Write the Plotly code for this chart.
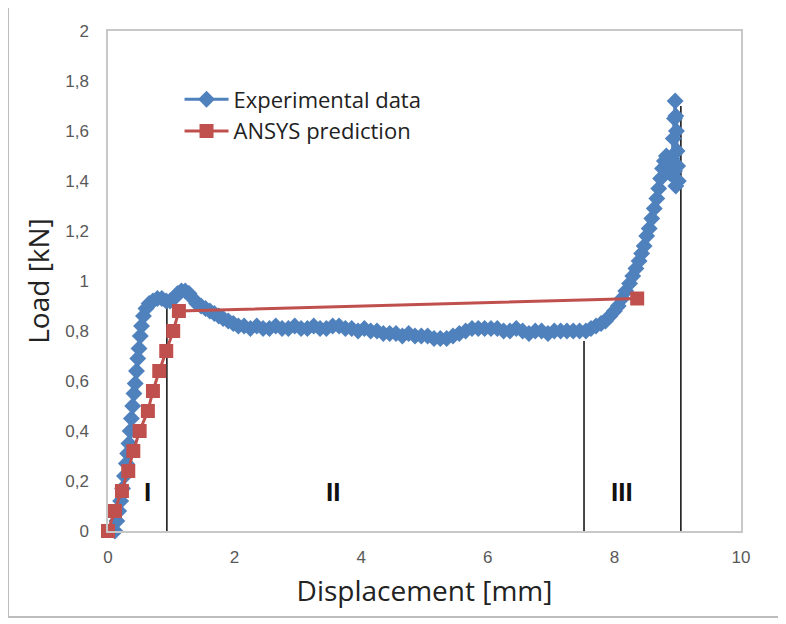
import plotly.graph_objects as go

# Experimental data (displacement mm, load kN)
exp_x = [0.11, 0.14, 0.17, 0.20, 0.23, 0.26, 0.29, 0.31, 0.33, 0.35, 0.37, 0.39, 0.41, 0.43,
         0.45, 0.47, 0.49, 0.51, 0.53, 0.56, 0.60, 0.65, 0.71, 0.78, 0.85, 0.92, 0.98, 1.04,
         1.10, 1.16, 1.22, 1.28, 1.34, 1.40, 1.47, 1.54, 1.61, 1.68, 1.75, 1.82, 1.90, 1.98,
         2.06, 2.15, 2.25, 2.35, 2.45, 2.55, 2.65, 2.75, 2.85, 2.95, 3.05, 3.15, 3.25, 3.35,
         3.45, 3.55, 3.65, 3.75, 3.85, 3.95, 4.05, 4.15, 4.25, 4.35, 4.45, 4.55, 4.65, 4.75,
         4.85, 4.95, 5.05, 5.15, 5.25, 5.35, 5.45, 5.55, 5.65, 5.75, 5.85, 5.95, 6.05, 6.15,
         6.25, 6.35, 6.45, 6.55, 6.65, 6.75, 6.85, 6.95, 7.05, 7.15, 7.25, 7.35, 7.45, 7.55,
         7.63, 7.71, 7.79, 7.86, 7.93, 8.00, 8.06, 8.12, 8.18, 8.24, 8.29, 8.34, 8.39, 8.43,
         8.47, 8.51, 8.55, 8.59, 8.63, 8.67, 8.70, 8.73, 8.76, 8.79, 8.82, 8.85, 8.88, 8.91,
         8.93, 8.95, 8.96, 8.97, 8.98, 8.99, 9.00, 9.01, 8.97, 8.95]
exp_y = [0.00, 0.04, 0.08, 0.12, 0.17, 0.22, 0.27, 0.31, 0.35, 0.40, 0.45, 0.50, 0.55, 0.59,
         0.64, 0.69, 0.73, 0.78, 0.82, 0.86, 0.89, 0.91, 0.92, 0.93, 0.93, 0.92, 0.92, 0.93,
         0.95, 0.96, 0.96, 0.95, 0.93, 0.91, 0.90, 0.89, 0.88, 0.87, 0.86, 0.85, 0.84, 0.83,
         0.82, 0.82, 0.81, 0.82, 0.81, 0.81, 0.82, 0.81, 0.81, 0.82, 0.81, 0.81, 0.82, 0.81,
         0.81, 0.82, 0.82, 0.81, 0.81, 0.80, 0.81, 0.80, 0.80, 0.79, 0.79, 0.79, 0.78, 0.79,
         0.78, 0.78, 0.78, 0.77, 0.77, 0.77, 0.78, 0.79, 0.80, 0.81, 0.81, 0.81, 0.81, 0.81,
         0.80, 0.80, 0.81, 0.80, 0.79, 0.80, 0.80, 0.79, 0.80, 0.80, 0.80, 0.80, 0.80, 0.80,
         0.81, 0.82, 0.83, 0.84, 0.86, 0.88, 0.90, 0.93, 0.96, 0.99, 1.02, 1.05, 1.08, 1.11,
         1.14, 1.18, 1.21, 1.25, 1.29, 1.33, 1.37, 1.41, 1.45, 1.48, 1.50, 1.47, 1.43, 1.49,
         1.57, 1.65, 1.72, 1.66, 1.60, 1.52, 1.46, 1.40, 1.38, 1.44]

# ANSYS prediction
ansys_x = [0.00, 0.11, 0.22, 0.32, 0.40, 0.50, 0.63, 0.71, 0.81, 0.92, 1.03, 1.12, 8.36]
ansys_y = [0.00, 0.08, 0.16, 0.24, 0.32, 0.40, 0.48, 0.56, 0.64, 0.72, 0.80, 0.88, 0.93]

# Region boundary lines
bound_x = [0.93, 7.52, 9.05]
bound_top = [0.92, 0.76, 1.70]

# Region labels
region_labels = ["I", "II", "III"]
region_x = [0.63, 3.55, 8.12]
region_y = [0.155, 0.155, 0.155]

BLUE = "#4F81BD"
RED = "#C0504D"

fig = go.Figure()

for bx, bt in zip(bound_x, bound_top):
    fig.add_trace(go.Scatter(x=[bx, bx], y=[0, bt], mode="lines",
                             line=dict(color="#1a1a1a", width=1.6),
                             showlegend=False, hoverinfo="skip"))

fig.add_trace(go.Scatter(x=exp_x, y=exp_y, mode="lines+markers", name="Experimental data",
                         line=dict(color=BLUE, width=3), cliponaxis=False,
                         marker=dict(symbol="diamond", size=13, color=BLUE)))
fig.add_trace(go.Scatter(x=ansys_x, y=ansys_y, mode="lines+markers", name="ANSYS prediction",
                         line=dict(color=RED, width=3), cliponaxis=False,
                         marker=dict(symbol="square", size=14, color=RED)))

for t, x, y in zip(region_labels, region_x, region_y):
    fig.add_annotation(x=x, y=y, text="<b>" + t + "</b>", showarrow=False,
                       font=dict(size=26, color="#111111",
                                 family="Liberation Sans Narrow, Liberation Sans"))

# outer frame
fig.add_shape(type="rect", xref="paper", yref="paper", x0=-0.158, x1=1.063, y0=-0.172, y1=1.048,
              line=dict(color="#bdbdbd", width=2), layer="below")

tick_font = dict(family="Liberation Sans Narrow, Liberation Sans", size=17, color="#595959")

fig.update_layout(
    width=778, height=616,
    margin=dict(l=100, r=45, t=23, b=93),
    paper_bgcolor="white", plot_bgcolor="white",
    separators=",.",
    font=dict(family="Open Sans, Liberation Sans", color="#222222"),
    showlegend=True,
    legend=dict(x=0.113, y=0.905, xanchor="left", yanchor="top", bgcolor="rgba(0,0,0,0)",
                font=dict(size=22, family="Open Sans, Liberation Sans", color="#222222"),
                itemwidth=44, tracegroupgap=0),
    xaxis=dict(range=[0, 10], dtick=2, tick0=0, showgrid=False, zeroline=False,
               showline=True, linecolor="#c8c8c8", linewidth=1.5, mirror=True,
               ticks="", tickfont=tick_font, ticklabelstandoff=10,
               title=dict(text="Displacement [mm]", font=dict(size=28, color="#222222"), standoff=15)),
    yaxis=dict(range=[0, 2], dtick=0.2, tick0=0, showgrid=False, zeroline=False,
               showline=True, linecolor="#c8c8c8", linewidth=1.5, mirror=True,
               ticks="", tickfont=tick_font, ticklabelstandoff=14,
               title=dict(text="Load [kN]", font=dict(size=28, color="#222222"), standoff=7)),
)

fig.write_html("out.html")
